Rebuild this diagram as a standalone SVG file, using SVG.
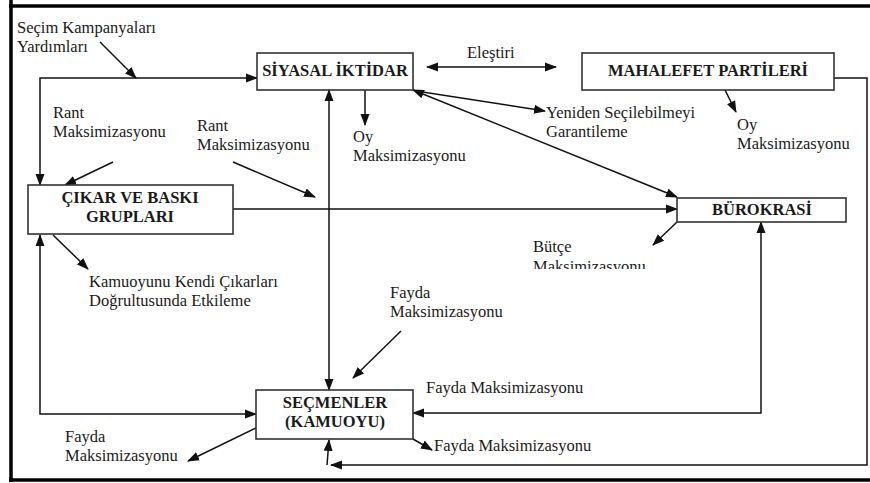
<svg xmlns="http://www.w3.org/2000/svg" width="870" height="483" viewBox="0 0 870 483">
<style>
.t{font-family:"Liberation Serif","Times New Roman",serif;font-size:16.5px;fill:#1a1a1a}
.b{font-family:"Liberation Serif","Times New Roman",serif;font-size:16.5px;font-weight:bold;fill:#1a1a1a;text-anchor:middle}
.box{fill:#fff;stroke:#333;stroke-width:1.6}
.c{fill:none;stroke:#111;stroke-width:1.5}
.e{marker-end:url(#ah)}
.s{marker-start:url(#ah)}
.frame{stroke:#000;stroke-width:3.5;fill:none}
</style>
<defs>
<marker id="ah" markerUnits="userSpaceOnUse" markerWidth="12" markerHeight="10" refX="11" refY="4.5" orient="auto-start-reverse" viewBox="0 0 12 9">
<path d="M0,0 L12,4.5 L0,9 z" fill="#111"/>
</marker>
<clipPath id="clipB"><rect x="520" y="230" width="160" height="39"/></clipPath>
</defs>
<rect width="870" height="483" fill="#fff"/>
<g id="frame">
<line class="frame" x1="11" y1="0" x2="11" y2="482"/>
<line class="frame" x1="9" y1="6" x2="870" y2="6"/>
<line class="frame" x1="9" y1="480" x2="870" y2="480"/>
</g>
<g id="connectors">
<polyline class="c s e" points="40,185 40,78 257,78"/>
<line class="c e" x1="100" y1="42" x2="136" y2="78"/>
<line class="c e" x1="113" y1="162" x2="65" y2="185"/>
<line class="c e" x1="233" y1="162" x2="315" y2="197"/>
<line class="c s e" x1="329" y1="90" x2="329" y2="390"/>
<line class="c e" x1="233" y1="209" x2="677" y2="209"/>
<line class="c e" x1="365" y1="90" x2="365" y2="125"/>
<line class="c e" x1="416" y1="91" x2="545" y2="111"/>
<line class="c s e" x1="413" y1="90" x2="677" y2="197"/>
<line class="c s e" x1="427" y1="67" x2="556" y2="67"/>
<line class="c e" x1="725" y1="90" x2="736" y2="112"/>
<polyline class="c e" points="834,78 867,78 867,465 331,465"/>
<line class="c e" x1="327" y1="465" x2="329" y2="440"/>
<polyline class="c s e" points="40,235 40,414 256,414"/>
<line class="c e" x1="53" y1="235" x2="88" y2="269"/>
<line class="c e" x1="677" y1="222" x2="653" y2="245"/>
<line class="c e" x1="401" y1="331" x2="353" y2="378"/>
<polyline class="c s e" points="761,222 761,413 413,413"/>
<line class="c e" x1="413" y1="439" x2="432" y2="450"/>
<line class="c e" x1="256" y1="428" x2="188" y2="461"/>
</g>
<g id="siyasal">
<rect class="box" x="257" y="53" width="156" height="37"/>
<text class="b" x="335" y="76">SİYASAL İKTİDAR</text>
</g>
<g id="muhalefet">
<rect class="box" x="582" y="53" width="252" height="37"/>
<text class="b" x="708" y="76">MAHALEFET PARTİLERİ</text>
</g>
<g id="cikar">
<rect class="box" x="28" y="185" width="205" height="49"/>
<text class="b" x="130" y="203">ÇIKAR VE BASKI</text>
<text class="b" x="130" y="222">GRUPLARI</text>
</g>
<g id="burokrasi">
<rect class="box" x="677" y="198" width="169" height="24"/>
<text class="b" x="762" y="215">BÜROKRASİ</text>
</g>
<g id="secmenler">
<rect class="box" x="256" y="390" width="157" height="49"/>
<text class="b" x="335" y="408">SEÇMENLER</text>
<text class="b" x="335" y="427">(KAMUOYU)</text>
</g>
<g id="labels">
<text class="t" x="17" y="33">Seçim Kampanyaları</text>
<text class="t" x="17" y="52">Yardımları</text>
<text class="t" x="53" y="118">Rant</text>
<text class="t" x="53" y="137">Maksimizasyonu</text>
<text class="t" x="197" y="131">Rant</text>
<text class="t" x="197" y="150">Maksimizasyonu</text>
<text class="t" x="353" y="142">Oy</text>
<text class="t" x="353" y="161">Maksimizasyonu</text>
<text class="t" x="467" y="58">Eleştiri</text>
<text class="t" x="546" y="118">Yeniden Seçilebilmeyi</text>
<text class="t" x="546" y="137">Garantileme</text>
<text class="t" x="737" y="130">Oy</text>
<text class="t" x="737" y="149">Maksimizasyonu</text>
<text class="t" x="533" y="252">Bütçe</text>
<text class="t" x="533" y="272" clip-path="url(#clipB)">Maksimizasyonu</text>
<text class="t" x="89" y="287">Kamuoyunu Kendi Çıkarları</text>
<text class="t" x="89" y="306">Doğrultusunda Etkileme</text>
<text class="t" x="390" y="298">Fayda</text>
<text class="t" x="390" y="317">Maksimizasyonu</text>
<text class="t" x="426" y="393">Fayda Maksimizasyonu</text>
<text class="t" x="434" y="451">Fayda Maksimizasyonu</text>
<text class="t" x="65" y="442">Fayda</text>
<text class="t" x="65" y="461">Maksimizasyonu</text>
</g>
</svg>
